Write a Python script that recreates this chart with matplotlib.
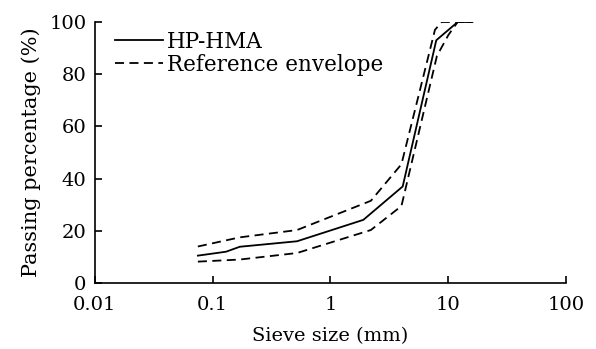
import numpy as np
import matplotlib.pyplot as plt
from matplotlib.ticker import FixedLocator, NullLocator

plt.rcParams['font.family'] = ['DejaVu Serif']

# sieve sizes (mm) and passing (%)
sieve_hp = [0.075, 0.13, 0.17, 0.52, 1.9, 4.1, 7.9, 12.0, 16.0]
pass_hp = [10.5, 12.0, 13.9, 16.0, 24.2, 37.0, 93.0, 100.0, 100.0]

sieve_up = [0.075, 0.17, 0.52, 2.2, 4.0, 7.7, 8.8, 16.0]
pass_up = [14.0, 17.5, 20.3, 31.5, 45.5, 97.0, 100.0, 100.0]

sieve_low = [0.075, 0.17, 0.52, 2.2, 4.0, 8.0, 10.0, 12.0, 16.0]
pass_low = [8.2, 9.0, 11.5, 20.3, 29.5, 87.0, 95.0, 100.0, 100.0]

fig = plt.figure(figsize=(5.96, 3.49), dpi=100)
ax = fig.add_axes([0.159, 0.189, 0.791, 0.748])

ax.plot(sieve_hp, pass_hp, color='black', lw=1.3, label='HP-HMA')
ax.plot(sieve_up, pass_up, color='black', lw=1.3, dashes=(5, 3), label='Reference envelope')
ax.plot(sieve_low, pass_low, color='black', lw=1.3, dashes=(5, 3))

ax.set_xscale('log')
ax.set_xlim(0.01, 100)
ax.set_ylim(0, 100)
ax.xaxis.set_major_locator(FixedLocator([0.01, 0.1, 1, 10, 100]))
ax.xaxis.set_minor_locator(NullLocator())
ax.set_xticklabels(['0.01', '0.1', '1', '10', '100'])
ax.set_yticks([0, 20, 40, 60, 80, 100])

for s in ['top', 'right']:
    ax.spines[s].set_visible(False)
for s in ['left', 'bottom']:
    ax.spines[s].set_linewidth(1.2)
ax.tick_params(direction='in', length=5, width=1.2, labelsize=14)
ax.tick_params(axis='x', pad=9)
ax.tick_params(axis='y', pad=6)

ax.set_xlabel('Sieve size (mm)', fontsize=14, labelpad=10)
ax.set_ylabel('Passing percentage (%)', fontsize=15, labelpad=6)

ax.legend(loc='upper left', frameon=False, fontsize=15.5, handlelength=2.2,
          handletextpad=0.2, labelspacing=0.05, borderaxespad=0.0,
          bbox_to_anchor=(0.025, 1.0))

fig.savefig('out.png', dpi=100)
